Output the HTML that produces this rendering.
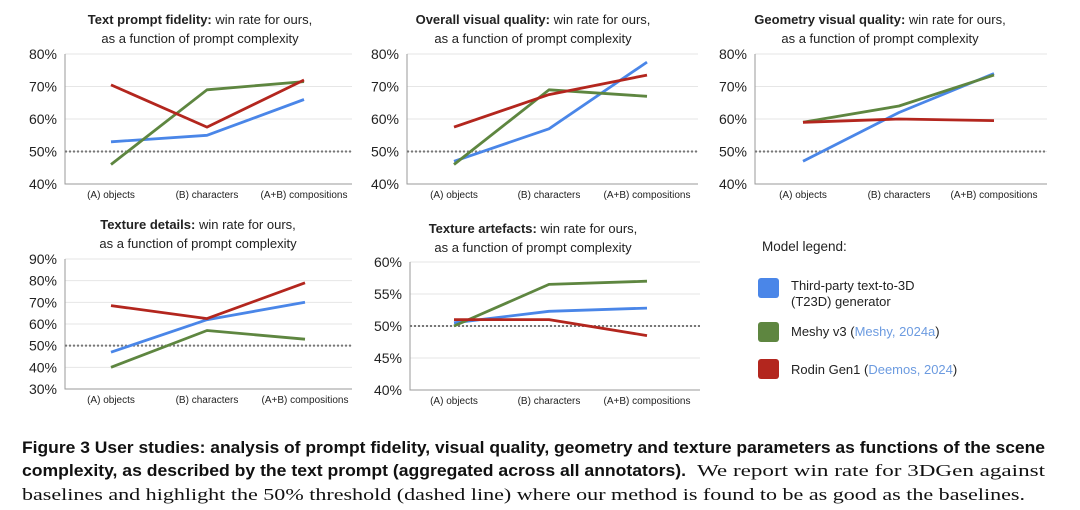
<!DOCTYPE html>
<html><head><meta charset="utf-8"><style>
html,body{margin:0;padding:0;background:#fff;}
svg{display:block;font-family:"Liberation Sans",sans-serif;}
</style></head><body>
<svg id="fig" width="1080" height="510" viewBox="0 0 1080 510" xmlns="http://www.w3.org/2000/svg">
<g id="charts"></g>
<g font-size="13" fill="#222">
  <text x="762" y="251" font-size="13.5">Model legend:</text>
  <rect x="758" y="278" width="21" height="20" rx="3" fill="#4a86e8"/>
  <text x="791" y="290">Third-party text-to-3D</text>
  <text x="791" y="306">(T23D) generator</text>
  <rect x="758" y="322" width="21" height="20" rx="3" fill="#5e8640"/>
  <text x="791" y="336">Meshy v3 (<tspan fill="#6c9be0">Meshy, 2024a</tspan>)</text>
  <rect x="758" y="359" width="21" height="20" rx="3" fill="#b3261e"/>
  <text x="791" y="374">Rodin Gen1 (<tspan fill="#6c9be0">Deemos, 2024</tspan>)</text>
</g>
<g fill="#111">
  <text x="22" y="453" font-size="17" font-weight="bold" textLength="1023" lengthAdjust="spacingAndGlyphs">Figure 3  User studies: analysis of prompt fidelity, visual quality, geometry and texture parameters as functions of the scene</text>
  <text x="22" y="476" font-size="17" font-weight="bold" textLength="664" lengthAdjust="spacingAndGlyphs">complexity, as described by the text prompt (aggregated across all annotators).</text>
  <text x="697" y="476" font-size="17" font-family="Liberation Serif, serif" textLength="348" lengthAdjust="spacingAndGlyphs">We report win rate for 3DGen against</text>
  <text x="22" y="500" font-size="17" font-family="Liberation Serif, serif" textLength="1003" lengthAdjust="spacingAndGlyphs">baselines and highlight the 50% threshold (dashed line) where our method is found to be as good as the baselines.</text>
</g>
</svg>
<script>
const categories = ["(A) objects", "(B) characters", "(A+B) compositions"];
const seriesNames = ["t23d", "meshy", "rodin"];
// chart 1: text prompt fidelity
const fidelityBlue = [53, 55, 66];
const fidelityGreen = [46, 69, 71.5];
const fidelityRed = [70.5, 57.5, 72];
const fidelityTicks = [40, 50, 60, 70, 80];
// chart 2: overall visual quality
const visualBlue = [47, 57, 77.5];
const visualGreen = [46, 69, 67];
const visualRed = [57.5, 67.5, 73.5];
const visualTicks = [40, 50, 60, 70, 80];
// chart 3: geometry
const geometryBlue = [47, 62, 74];
const geometryGreen = [59, 64, 73.5];
const geometryRed = [59, 60, 59.5];
const geometryTicks = [40, 50, 60, 70, 80];
// chart 4: texture details
const detailsBlue = [47, 62, 70];
const detailsGreen = [40, 57, 53];
const detailsRed = [68.5, 62.5, 79];
const detailsTicks = [30, 40, 50, 60, 70, 80, 90];
// chart 5: texture artefacts
const artefactsBlue = [50.5, 52.3, 52.8];
const artefactsGreen = [50, 56.5, 57];
const artefactsRed = [51, 51, 48.5];
const artefactsTicks = [40, 45, 50, 55, 60];

const colors = ["#4a86e8", "#5e8640", "#b3261e"];
const NS = "http://www.w3.org/2000/svg";
const root = document.getElementById("charts");
function mk(tag, attrs, parent) {
  const e = document.createElementNS(NS, tag);
  for (const k in attrs) e.setAttribute(k, attrs[k]);
  parent.appendChild(e);
  return e;
}
const charts = [
  {id:"fidelity", bold:"Text prompt fidelity:", x0:65, x1:352, top:54, bot:184, cx:[111,207,304], tx:200, ty:[24,43], ticks:fidelityTicks, s:[fidelityBlue,fidelityGreen,fidelityRed]},
  {id:"visual", bold:"Overall visual quality:", x0:407, x1:698, top:54, bot:184, cx:[454,549,647], tx:533, ty:[24,43], ticks:visualTicks, s:[visualBlue,visualGreen,visualRed]},
  {id:"geometry", bold:"Geometry visual quality:", x0:755, x1:1047, top:54, bot:184, cx:[803,899,994], tx:880, ty:[24,43], ticks:geometryTicks, s:[geometryBlue,geometryGreen,geometryRed]},
  {id:"details", bold:"Texture details:", x0:65, x1:352, top:259, bot:389, cx:[111,207,305], tx:198, ty:[229,248], ticks:detailsTicks, s:[detailsBlue,detailsGreen,detailsRed]},
  {id:"artefacts", bold:"Texture artefacts:", x0:410, x1:700, top:262, bot:390, cx:[454,549,647], tx:533, ty:[233,252], ticks:artefactsTicks, s:[artefactsBlue,artefactsGreen,artefactsRed]}
];
charts.forEach(c => {
  const g = mk("g", {}, root);
  
  
  const tmin = c.ticks[0], tmax = c.ticks[c.ticks.length-1];
  const y = v => c.bot - (v - tmin) / (tmax - tmin) * (c.bot - c.top);
  const t1 = mk("text", {x:c.tx, y:c.ty[0], "text-anchor":"middle", "font-size":"13", fill:"#222"}, g);
  
  
  const b = mk("tspan", {"font-weight":"bold"}, t1); b.textContent = c.bold;
  const r = mk("tspan", {}, t1); r.textContent = " win rate for ours,";
  const t2 = mk("text", {x:c.tx, y:c.ty[1], "text-anchor":"middle", "font-size":"13", fill:"#222"}, g);
  
  
  t2.textContent = "as a function of prompt complexity";
  c.ticks.forEach(tv => {
    if (tv !== tmin) {
      const gl = mk("line", {x1:c.x0, x2:c.x1, y1:y(tv), y2:y(tv), stroke:"#e6e6e6", "stroke-width":"1"}, g);
      
      
    }
    const tl = mk("text", {x:c.x0-8, y:y(tv)+5, "text-anchor":"end", "font-size":"14", fill:"#222"}, g);
    
    
    tl.textContent = tv + "%";
  });
  const ax = mk("path", {d:`M${c.x0},${c.top} V${c.bot} H${c.x1}`, fill:"none", stroke:"#9a9a9a", "stroke-width":"1"}, g);
  
  
  const th = mk("line", {x1:c.x0, x2:c.x1, y1:y(50), y2:y(50), stroke:"#777", "stroke-width":"2", "stroke-dasharray":"2 2"}, g);
  
  
  categories.forEach((cat, i) => {
    const xl = mk("text", {x:c.cx[i], y:c.bot+14, "text-anchor":"middle", "font-size":"10", fill:"#222"}, g);
    
    
    xl.textContent = cat;
  });
  c.s.forEach((vals, si) => {
    const pts = vals.map((v, i) => c.cx[i] + "," + y(v).toFixed(1)).join(" ");
    const pl = mk("polyline", {points:pts, fill:"none", stroke:colors[si], "stroke-width":"2.8", "stroke-linejoin":"round"}, g);
    
    
  });
});
</script>
</body></html>
